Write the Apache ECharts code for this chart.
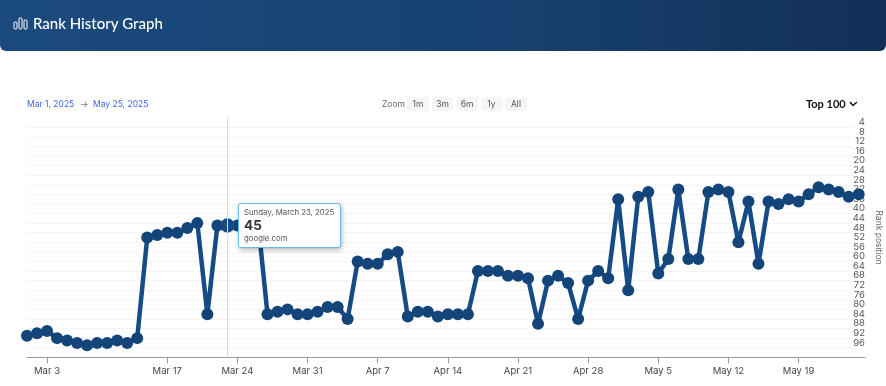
<!DOCTYPE html>
<html>
<head>
<meta charset="utf-8">
<title>Rank History Graph</title>
<style>
html, body { margin: 0; padding: 0; background: #fff; }
#chart { width: 886px; height: 386px; }
</style>
<script src="https://cdn.jsdelivr.net/npm/echarts@6/dist/echarts.min.js"></script>
</head>
<body>
<div id="chart"></div>
<script>
// dates on the ordinal axis, two days have no data before Mar 17
var dates = [
    'Mar 1', 'Mar 2', 'Mar 3', 'Mar 4', 'Mar 5', 'Mar 6', 'Mar 7', 'Mar 10', 'Mar 11', 'Mar 12', 'Mar 13', 'Mar 14',
    'Mar 15', 'Mar 16', 'Mar 17', 'Mar 18', 'Mar 19', 'Mar 20', 'Mar 21', 'Mar 22', 'Mar 23', 'Mar 24', 'Mar 25', 'Mar 26',
    'Mar 27', 'Mar 28', 'Mar 29', 'Mar 30', 'Mar 31', 'Apr 1', 'Apr 2', 'Apr 3', 'Apr 4', 'Apr 5', 'Apr 6', 'Apr 7',
    'Apr 8', 'Apr 9', 'Apr 10', 'Apr 11', 'Apr 12', 'Apr 13', 'Apr 14', 'Apr 15', 'Apr 16', 'Apr 17', 'Apr 18', 'Apr 19',
    'Apr 20', 'Apr 21', 'Apr 22', 'Apr 23', 'Apr 24', 'Apr 25', 'Apr 26', 'Apr 27', 'Apr 28', 'Apr 29', 'Apr 30', 'May 1',
    'May 2', 'May 3', 'May 4', 'May 5', 'May 6', 'May 7', 'May 8', 'May 9', 'May 10', 'May 11', 'May 12', 'May 13',
    'May 14', 'May 15', 'May 16', 'May 17', 'May 18', 'May 19', 'May 20', 'May 21', 'May 22', 'May 23', 'May 24', 'May 25'
];
var ranks = [
    91, 90, 89, 92, 93, 94, 95, 94, 94, 93, 94, 92,
    50, 49, 48, 48, 46, 44, 82, 45, 45, 45, 44, 41,
    82, 81, 80, 82, 82, 81, 79, 79, 84, 60, 61, 61,
    57, 56, 83, 81, 81, 83, 82, 82, 82, 64, 64, 64,
    66, 66, 67, 86, 68, 66, 69, 84, 68, 64, 67, 34,
    72, 33, 31, 65, 59, 30, 59, 59, 31, 30, 31, 52,
    35, 61, 35, 36, 34, 35, 32, 29, 30, 31, 33, 32
];
var tickDates = ['Mar 3', 'Mar 17', 'Mar 24', 'Mar 31', 'Apr 7', 'Apr 14', 'Apr 21', 'Apr 28', 'May 5', 'May 12', 'May 19'];
var zoomLabels = ['1m', '3m', '6m', '1y', 'All'];
var zoomLefts = [407, 432, 456, 481, 505];
var zoomWidths = [22, 21, 22, 21, 22];

var tickIndexes = tickDates.map(function (d) { return dates.indexOf(d); });
var points = ranks.map(function (v, i) { return [i, v]; });

var lineColor = '#14457a';
var font = 'Inter';

// header, date range, zoom buttons and the Top 100 selector
var graphics = [
    {
        type: 'rect',
        shape: { x: 0, y: 0, width: 886, height: 51, r: [0, 0, 6, 6] },
        style: {
            fill: new echarts.graphic.LinearGradient(0, 0, 1, 0, [
                { offset: 0, color: '#1b4a7e' },
                { offset: 0.6, color: '#17406f' },
                { offset: 1, color: '#122f57' }
            ])
        }
    },
    { type: 'rect', shape: { x: 14, y: 22, width: 3, height: 7, r: 1 }, style: { fill: 'none', stroke: '#fff', lineWidth: 1 } },
    { type: 'rect', shape: { x: 19, y: 18, width: 3, height: 11, r: 1 }, style: { fill: 'none', stroke: '#fff', lineWidth: 1 } },
    { type: 'rect', shape: { x: 24, y: 20, width: 3, height: 9, r: 1 }, style: { fill: 'none', stroke: '#fff', lineWidth: 1 } },
    { type: 'text', x: 33, y: 24, style: { text: 'Rank History Graph', fill: '#fff', font: '500 15px Lato', verticalAlign: 'middle' } },
    { type: 'text', x: 27, y: 104, style: { text: 'Mar 1, 2025', fill: '#3f66f2', font: '8.5px ' + font, verticalAlign: 'middle' } },
    { type: 'text', x: 80, y: 104, style: { text: '→', fill: '#777', font: '9px ' + font, verticalAlign: 'middle' } },
    { type: 'text', x: 93, y: 104, style: { text: 'May 25, 2025', fill: '#3f66f2', font: '8.5px ' + font, verticalAlign: 'middle' } },
    { type: 'text', x: 382, y: 104, style: { text: 'Zoom', fill: '#666', font: '8.5px ' + font, verticalAlign: 'middle' } },
    { type: 'text', x: 806, y: 104, style: { text: 'Top 100', fill: '#111', font: 'bold 11px Lato', verticalAlign: 'middle' } },
    { type: 'polyline', shape: { points: [[850, 102], [853, 105.5], [857, 102]] }, style: { fill: 'none', stroke: '#111', lineWidth: 1.5 } }
];
for (var i = 0; i < zoomLabels.length; i++) {
    graphics.push({
        type: 'rect',
        shape: { x: zoomLefts[i], y: 97, width: zoomWidths[i], height: 14, r: 2 },
        style: { fill: '#f6f6f6' }
    });
    graphics.push({
        type: 'text',
        x: zoomLefts[i] + zoomWidths[i] / 2,
        y: 104,
        style: { text: zoomLabels[i], fill: '#555', font: '8.5px ' + font, align: 'center', verticalAlign: 'middle' }
    });
}

var chart = echarts.init(document.getElementById('chart'));

var option = {
    animation: false,
    textStyle: { fontFamily: font },
    graphic: graphics,
    // first grid holds the line and axes, second one only the shorter grid lines
    grid: [
        { left: 27, right: 21, top: 117.7, height: 239.6, outerBoundsMode: 'none' },
        { left: 27, right: 33, top: 117.7, height: 239.6, outerBoundsMode: 'none' }
    ],
    xAxis: [
        {
            type: 'value',
            gridIndex: 0,
            position: 'bottom',
            min: 0,
            max: 83.63,
            splitLine: { show: false },
            axisLine: { onZero: false, lineStyle: { color: '#999' } },
            axisTick: { length: 6, lineStyle: { color: '#999' }, customValues: tickIndexes },
            axisLabel: {
                customValues: tickIndexes,
                color: '#444',
                fontSize: 9.5,
                margin: 9,
                formatter: function (v) { return dates[v]; }
            }
        },
        { type: 'value', gridIndex: 1, min: 0, max: 100, show: false }
    ],
    yAxis: [
        {
            type: 'value',
            gridIndex: 0,
            position: 'right',
            inverse: true,
            min: 0,
            max: 100,
            interval: 4,
            name: 'Rank position',
            nameLocation: 'middle',
            nameRotate: -90,
            nameGap: 9,
            nameMoveOverlap: false,
            nameTextStyle: { color: '#666', fontSize: 8.5 },
            splitLine: { show: false },
            axisLine: { show: false },
            axisTick: { show: false },
            axisLabel: {
                inside: true,
                margin: 0,
                color: '#555',
                fontSize: 9.5,
                verticalAlign: 'bottom',
                lineHeight: 10,
                showMinLabel: false,
                showMaxLabel: false
            }
        },
        {
            type: 'value',
            gridIndex: 1,
            inverse: true,
            min: 0,
            max: 100,
            interval: 4,
            axisLine: { show: false },
            axisTick: { show: false },
            axisLabel: { show: false },
            splitLine: { showMinLine: false, showMaxLine: false, lineStyle: { color: '#f4f4f4', width: 1 } }
        }
    ],
    tooltip: {
        trigger: 'axis',
        alwaysShowContent: true,
        transitionDuration: 0,
        position: [238, 203],
        padding: [3, 5],
        backgroundColor: '#fff',
        borderColor: '#68b9ee',
        borderWidth: 1.5,
        axisPointer: { type: 'line', lineStyle: { color: '#dcdcdc', width: 1, type: 'solid' } },
        extraCssText: 'border-radius:3px;box-shadow:1px 2px 5px rgba(0,0,0,0.28);width:91px;height:37px;',
        formatter: function (params) {
            return '<div style="font:7.8px/11px Inter;color:#555;white-space:nowrap">Sunday, March 23, 2025</div>' +
                '<div style="font:bold 13.5px/15px Inter;color:#333;">' + params[0].value[1] + '</div>' +
                '<div style="font:7.8px/11px Inter;color:#555;">google.com</div>';
        }
    },
    series: [{
        type: 'line',
        xAxisIndex: 0,
        yAxisIndex: 0,
        data: points,
        clip: false,
        showSymbol: true,
        showAllSymbol: true,
        symbol: 'circle',
        symbolSize: 12,
        lineStyle: { color: lineColor, width: 4.5 },
        itemStyle: { color: lineColor },
        emphasis: { scale: 1.2, lineStyle: { width: 4.5 } }
    }]
};

chart.setOption(option);
chart.dispatchAction({ type: 'showTip', seriesIndex: 0, dataIndex: 20 });
</script>
</body>
</html>
